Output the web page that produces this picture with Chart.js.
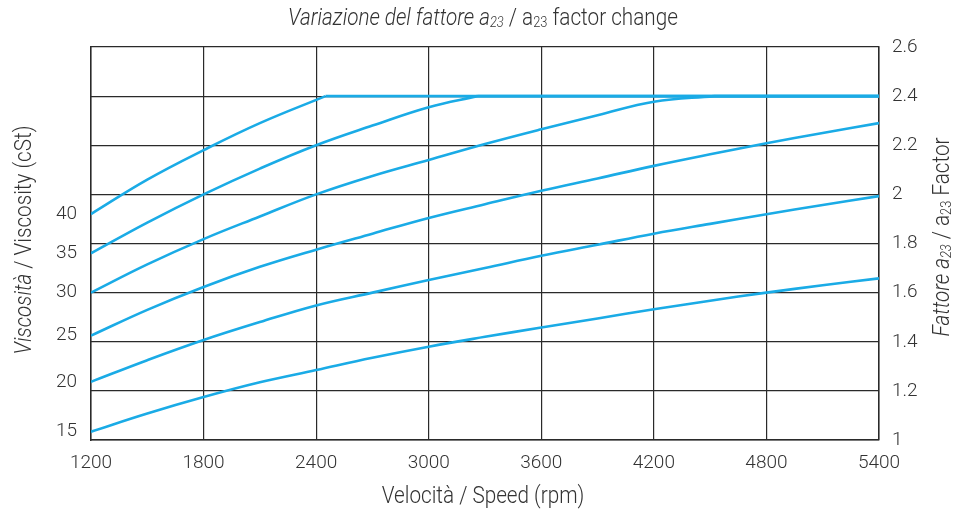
<!DOCTYPE html>
<html>
<head>
<meta charset="utf-8">
<script src="https://cdn.jsdelivr.net/npm/chart.js@4"></script>
<style>
  html, body { margin: 0; padding: 0; background: #fff; }
  #wrap { width: 955px; height: 514px; }
</style>
</head>
<body>
<div id="wrap"><canvas id="chart"></canvas></div>
<script>
// speed (rpm) and a23 factor for each viscosity curve
// the three high-viscosity curves rise until they hit the 2.4 cap
const rpm40 = [1200, 1500, 1800, 2100, 2450];
const factor40 = [1.92, 2.06, 2.18, 2.29, 2.40];

const rpm35 = [1200, 1500, 1800, 2100, 2400, 2700, 3000, 3260];
const factor35 = [1.76, 1.885, 2.0, 2.105, 2.2, 2.28, 2.355, 2.40];

const rpm30 = [1200, 1500, 1800, 2100, 2400, 2700, 3000, 3300, 3600, 3900, 4200, 4520];
const factor30 = [1.60, 1.715, 1.818, 1.91, 2.0, 2.075, 2.14, 2.205, 2.265, 2.322, 2.377, 2.40];

const rpm = [1200, 1500, 1800, 2100, 2400, 2700, 3000, 3300, 3600, 3900, 4200, 4500, 4800, 5100, 5400];
const factor25 = [1.425, 1.53, 1.623, 1.705, 1.775, 1.84, 1.904, 1.96, 2.015, 2.065, 2.116, 2.163, 2.208, 2.25, 2.29];
const factor20 = [1.237, 1.325, 1.407, 1.48, 1.548, 1.60, 1.651, 1.70, 1.75, 1.795, 1.84, 1.88, 1.919, 1.957, 1.993];
const factor15 = [1.034, 1.108, 1.175, 1.235, 1.285, 1.335, 1.38, 1.42, 1.458, 1.495, 1.532, 1.567, 1.60, 1.63, 1.658];

const factorCap = 2.4;
const rpmMax = 5400;

// left axis: viscosity labels sit at the start of each curve
const viscosityLabels = ['15', '20', '25', '30', '35', '40'];
const viscosityAt = [factor15[0], factor20[0], factor25[0], factor30[0], factor35[0], factor40[0]];

const lineColor = '#1aabe6';
const gridColor = '#2a2a2a';
const textColor = '#333';
const tickFont = { family: "Roboto, 'Open Sans', sans-serif", size: 19, weight: '300' };
const titleFamily = "Roboto, 'Open Sans', sans-serif";

const toPoints = (xs, ys) => xs.map((x, i) => ({ x: x, y: ys[i] }));
const capFrom = (xs) => [{ x: xs[xs.length - 1], y: factorCap }, { x: rpmMax, y: factorCap }];

const curves = [
  toPoints(rpm40, factor40),
  toPoints(rpm35, factor35),
  toPoints(rpm30, factor30),
  toPoints(rpm, factor25),
  toPoints(rpm, factor20),
  toPoints(rpm, factor15),
  capFrom(rpm40),
  capFrom(rpm35),
  capFrom(rpm30),
];

// draws a line of text made of parts (italic / subscript) centred at x,y
// squeezed horizontally to look like the condensed face of the original
function drawRich(ctx, parts, x, y, rot, size) {
  const squeeze = 0.9;
  const fontOf = (p) => (p.i ? 'italic ' : '') + '300 ' + (p.s ? size * 0.62 : size) + 'px ' + titleFamily;
  let total = 0;
  parts.forEach(p => { ctx.font = fontOf(p); total += ctx.measureText(p.t).width; });
  ctx.save();
  ctx.translate(x, y);
  ctx.rotate(rot);
  ctx.scale(squeeze, 1);
  ctx.fillStyle = textColor;
  ctx.textBaseline = 'middle';
  ctx.textAlign = 'left';
  let cx = -total / 2;
  parts.forEach(p => {
    ctx.font = fontOf(p);
    ctx.fillText(p.t, cx, p.s ? size * 0.18 : 0);
    cx += ctx.measureText(p.t).width;
  });
  ctx.restore();
}

const titlesPlugin = {
  id: 'titlesPlugin',
  afterDraw: (chart) => {
    const { ctx, chartArea: { left, right } } = chart;
    const mid = (left + right) / 2;
    drawRich(ctx, [
      { t: 'Variazione del fattore a', i: true },
      { t: '23', i: true, s: true },
      { t: ' / a' },
      { t: '23', s: true },
      { t: ' factor change' },
    ], mid - 2, 19, 0, 23);
    drawRich(ctx, [{ t: 'Velocità / Speed (rpm)' }], mid - 2, 497, 0, 23);
    drawRich(ctx, [
      { t: 'Viscosità', i: true },
      { t: ' / Viscosity (cSt)' },
    ], 25, 240, -Math.PI / 2, 23);
    drawRich(ctx, [
      { t: 'Fattore a', i: true },
      { t: '23', i: true, s: true },
      { t: ' / a' },
      { t: '23', s: true },
      { t: ' Factor' },
    ], 943, 237, -Math.PI / 2, 23);
  }
};

const fmt = (v) => String(Number(v.toFixed(1)));

new Chart(document.getElementById('chart'), {
  type: 'scatter',
  data: {
    datasets: curves.map(pts => ({
      data: pts,
      showLine: true,
      borderColor: lineColor,
      borderWidth: 2.6,
      pointRadius: 0,
      tension: 0.4,
      yAxisID: 'yR',
    })),
  },
  options: {
    responsive: true,
    maintainAspectRatio: false,
    animation: false,
    layout: { padding: { top: 47, right: 0, left: 0, bottom: 0 } },
    plugins: {
      legend: { display: false },
      tooltip: { enabled: false },
    },
    scales: {
      x: {
        type: 'linear',
        min: 1200,
        max: 5400,
        ticks: {
          stepSize: 600, color: textColor, font: tickFont, padding: 12, maxRotation: 0,
          callback: (v) => String(v),
        },
        grid: { color: gridColor, lineWidth: 1.2, drawTicks: false },
        border: { color: gridColor, width: 1.5 },
        afterFit: (s) => { s.height = 74; },
      },
      yL: {
        type: 'linear',
        position: 'left',
        min: 1,
        max: 2.6,
        afterBuildTicks: (s) => { s.ticks = viscosityAt.map(v => ({ value: v })); },
        ticks: {
          color: textColor,
          font: tickFont,
          padding: 14,
          callback: (v, i) => viscosityLabels[i],
        },
        grid: { display: false, drawTicks: false },
        border: { color: gridColor, width: 1.5 },
        afterFit: (s) => { s.width = 91; },
      },
      yR: {
        type: 'linear',
        position: 'right',
        min: 1,
        max: 2.6,
        ticks: { stepSize: 0.2, color: textColor, font: tickFont, padding: 13, callback: (v) => fmt(v) },
        grid: { color: gridColor, lineWidth: 1.2, drawTicks: false },
        border: { color: gridColor, width: 1.5 },
        afterFit: (s) => { s.width = 76; },
      },
    },
  },
  plugins: [titlesPlugin],
});
</script>
</body>
</html>
